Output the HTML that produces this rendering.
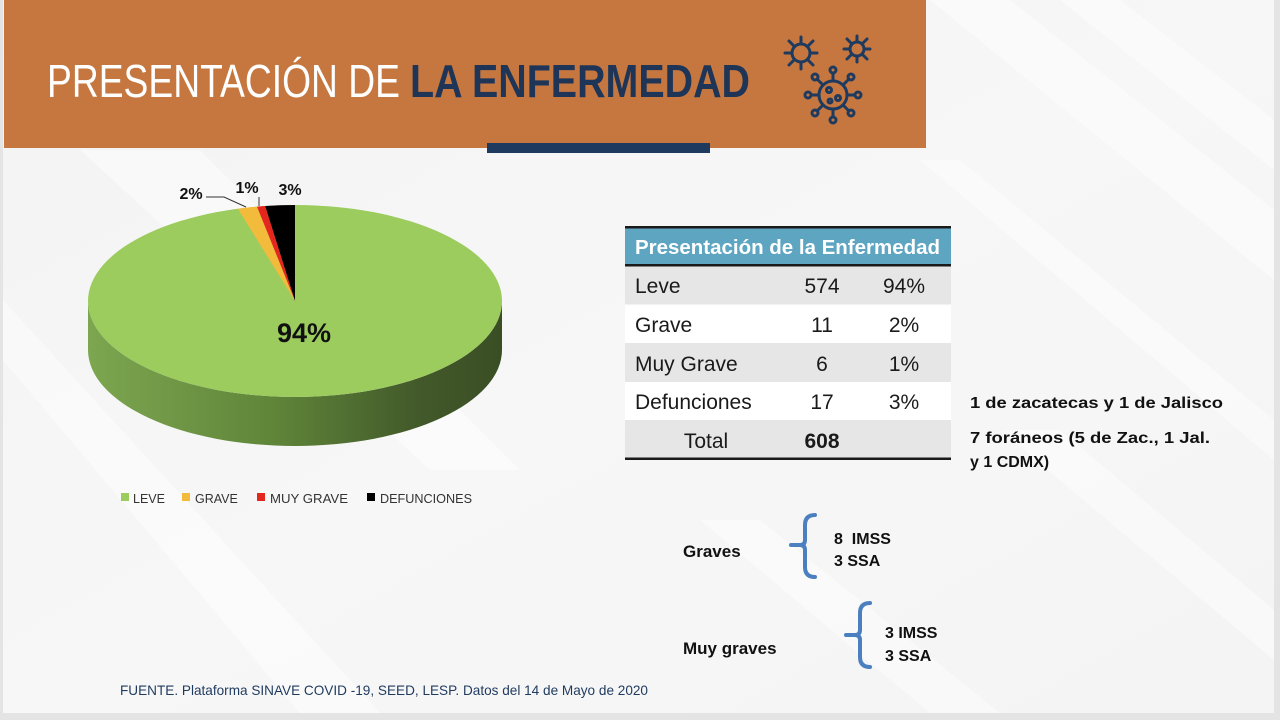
<!DOCTYPE html>
<html><head><meta charset="utf-8"><style>
html,body{margin:0;padding:0;width:1280px;height:720px;overflow:hidden;background:#e6e6e6;}
svg{display:block;}
</style></head><body>
<svg width="1280" height="720" viewBox="0 0 1280 720" xmlns="http://www.w3.org/2000/svg">
<defs>
<linearGradient id="side" x1="0" y1="0" x2="1" y2="0">
<stop offset="0" stop-color="#7da650"/>
<stop offset="0.45" stop-color="#5f8539"/>
<stop offset="0.8" stop-color="#42592a"/>
<stop offset="1" stop-color="#3a4e24"/>
</linearGradient>
<linearGradient id="bg" x1="0" y1="0" x2="1" y2="1">
<stop offset="0" stop-color="#f3f3f3"/>
<stop offset="0.5" stop-color="#f7f7f7"/>
<stop offset="1" stop-color="#f4f4f4"/>
</linearGradient>
</defs>
<!-- slide background -->
<rect x="0" y="0" width="1280" height="720" fill="#e4e4e4"/>
<rect x="3" y="0" width="1271" height="713" fill="url(#bg)"/>
<g fill="#ffffff" opacity="0.45">
<polygon points="930,0 1010,0 1274,210 1274,280"/>
<polygon points="1060,0 1120,0 1274,120 1274,170"/>
<polygon points="920,160 960,160 1274,420 1274,460"/>
<polygon points="3,300 3,360 300,713 380,713"/>
<polygon points="700,520 760,520 1000,713 930,713"/>
<polygon points="1000,430 1060,430 1274,610 1274,660"/>
<polygon points="80,150 200,150 520,470 430,470"/>
</g>
<!-- header -->
<rect x="4" y="0" width="922" height="148" fill="#c5773f"/>
<rect x="487" y="143" width="223" height="10" fill="#1f3a5f"/>
<text x="47" y="97" font-family="Liberation Sans, sans-serif" font-size="46" fill="#ffffff" textLength="353" lengthAdjust="spacingAndGlyphs">PRESENTACIÓN DE</text>
<text x="410" y="97" font-family="Liberation Sans, sans-serif" font-size="46" font-weight="bold" fill="#1e3557" textLength="340" lengthAdjust="spacingAndGlyphs">LA ENFERMEDAD</text>
<!-- virus icons -->
<g stroke="#1f3a5f" stroke-width="3" fill="none" stroke-linecap="round">
<circle cx="801" cy="53" r="9"/>
<g transform="translate(801,53)">
<line x1="0" y1="-10" x2="0" y2="-16"/><line x1="0" y1="10" x2="0" y2="16"/>
<line x1="-10" y1="0" x2="-16" y2="0"/><line x1="10" y1="0" x2="16" y2="0"/>
<line x1="7" y1="7" x2="12" y2="12"/><line x1="-7" y1="7" x2="-12" y2="12"/>
<line x1="7" y1="-7" x2="12" y2="-12"/><line x1="-7" y1="-7" x2="-12" y2="-12"/>
</g>
<circle cx="857" cy="49" r="7"/>
<g transform="translate(857,49)">
<line x1="0" y1="-8" x2="0" y2="-13"/><line x1="0" y1="8" x2="0" y2="13"/>
<line x1="-8" y1="0" x2="-13" y2="0"/><line x1="8" y1="0" x2="13" y2="0"/>
<line x1="6" y1="6" x2="10" y2="10"/><line x1="-6" y1="6" x2="-10" y2="10"/>
<line x1="6" y1="-6" x2="10" y2="-10"/><line x1="-6" y1="-6" x2="-10" y2="-10"/>
</g>
<circle cx="833" cy="95" r="14"/>
<g transform="translate(833,95)">
<line x1="0" y1="-15" x2="0" y2="-22"/><line x1="0" y1="15" x2="0" y2="22"/>
<line x1="-15" y1="0" x2="-22" y2="0"/><line x1="15" y1="0" x2="22" y2="0"/>
<line x1="11" y1="11" x2="16" y2="16"/><line x1="-11" y1="11" x2="-16" y2="16"/>
<line x1="11" y1="-11" x2="16" y2="-16"/><line x1="-11" y1="-11" x2="-16" y2="-16"/>
<circle cx="0" cy="-25" r="3"/><circle cx="0" cy="25" r="3"/><circle cx="-25" cy="0" r="3"/><circle cx="25" cy="0" r="3"/>
<circle cx="18" cy="18" r="3"/><circle cx="-18" cy="18" r="3"/><circle cx="18" cy="-18" r="3"/><circle cx="-18" cy="-18" r="3"/>
<circle cx="-4" cy="-5" r="2.5"/><circle cx="5" cy="3" r="2.5"/><circle cx="-3" cy="6" r="2"/>
</g>
</g>
<!-- pie 3D -->
<path d="M88,301 A207,96 0 0 0 502,301 L502,350 A207,96 0 0 1 88,350 Z" fill="url(#side)"/>
<ellipse cx="295" cy="301" rx="207" ry="96" fill="#9ccb5e"/>
<path d="M295,301 L295,205 A207,96 0 0 0 265.1,206 Z" fill="#000000"/>
<path d="M295,301 L265.1,206 A207,96 0 0 0 256.9,206.6 Z" fill="#e5261f"/>
<path d="M295,301 L256.9,206.6 A207,96 0 0 0 237.9,208.7 Z" fill="#f3bb3c"/>
<text x="304" y="342" font-family="Liberation Sans, sans-serif" font-size="27" font-weight="bold" fill="#111" text-anchor="middle">94%</text>
<text x="191" y="199" font-family="Liberation Sans, sans-serif" font-size="16" font-weight="bold" fill="#111" text-anchor="middle">2%</text>
<text x="247" y="193" font-family="Liberation Sans, sans-serif" font-size="16" font-weight="bold" fill="#111" text-anchor="middle">1%</text>
<text x="290" y="195" font-family="Liberation Sans, sans-serif" font-size="16" font-weight="bold" fill="#111" text-anchor="middle">3%</text>
<polyline points="206,197 224,197 246,207" stroke="#333" stroke-width="1" fill="none"/>
<line x1="259" y1="197" x2="259" y2="206" stroke="#333" stroke-width="1"/>
<!-- legend -->
<g font-family="Liberation Sans, sans-serif" font-size="12.5" fill="#333">
<rect x="121" y="493" width="8" height="8" fill="#9ccb5e"/><text x="133" y="503">LEVE</text>
<rect x="182" y="493" width="8" height="8" fill="#f3bb3c"/><text x="195" y="503">GRAVE</text>
<rect x="257" y="493" width="8" height="8" fill="#e5261f"/><text x="270" y="503" textLength="78" lengthAdjust="spacingAndGlyphs">MUY GRAVE</text>
<rect x="367" y="493" width="8" height="8" fill="#000"/><text x="380" y="503" textLength="92" lengthAdjust="spacingAndGlyphs">DEFUNCIONES</text>
</g>
<!-- table -->
<rect x="625" y="227" width="326" height="39" fill="#5ea5c2"/>
<rect x="625" y="226" width="326" height="2.5" fill="#1a1a1a"/>
<rect x="625" y="264" width="326" height="2.5" fill="#1a1a1a"/>
<rect x="625" y="266.5" width="326" height="38" fill="#e6e6e6"/>
<rect x="625" y="304.5" width="326" height="38.5" fill="#ffffff"/>
<rect x="625" y="343" width="326" height="39" fill="#e6e6e6"/>
<rect x="625" y="382" width="326" height="38" fill="#ffffff"/>
<rect x="625" y="420" width="326" height="38" fill="#e6e6e6"/>
<rect x="625" y="457.5" width="326" height="2.5" fill="#1a1a1a"/>
<text x="635" y="254" font-family="Liberation Sans, sans-serif" font-size="20" font-weight="bold" fill="#ffffff" textLength="305" lengthAdjust="spacingAndGlyphs">Presentación de la Enfermedad</text>
<g font-family="Liberation Sans, sans-serif" font-size="21" fill="#1a1a1a">
<text x="635" y="293">Leve</text><text x="822" y="293" text-anchor="middle">574</text><text x="904" y="293" text-anchor="middle">94%</text>
<text x="635" y="332">Grave</text><text x="822" y="332" text-anchor="middle">11</text><text x="904" y="332" text-anchor="middle">2%</text>
<text x="635" y="371">Muy Grave</text><text x="822" y="371" text-anchor="middle">6</text><text x="904" y="371" text-anchor="middle">1%</text>
<text x="635" y="409">Defunciones</text><text x="822" y="409" text-anchor="middle">17</text><text x="904" y="409" text-anchor="middle">3%</text>
<text x="706" y="448" text-anchor="middle">Total</text><text x="822" y="448" text-anchor="middle" font-weight="bold">608</text>
</g>
<!-- notes -->
<g font-family="Liberation Sans, sans-serif" font-size="16" font-weight="bold" fill="#111">
<text x="970" y="408" textLength="253" lengthAdjust="spacingAndGlyphs">1 de zacatecas y 1 de Jalisco</text>
<text x="970" y="443" textLength="240" lengthAdjust="spacingAndGlyphs">7 foráneos (5 de Zac., 1 Jal.</text>
<text x="970" y="467">y 1 CDMX)</text>
<text x="683" y="557" font-size="17">Graves</text>
<text x="834" y="544">8&#160; IMSS</text>
<text x="834" y="566">3 SSA</text>
<text x="683" y="654" font-size="17">Muy graves</text>
<text x="885" y="638">3 IMSS</text>
<text x="885" y="661">3 SSA</text>
</g>
<g stroke="#4c7fbf" stroke-width="4" fill="none" stroke-linecap="round">
<path d="M815,515 Q805,515 805,525 L805,540 Q805,545 800,545 L791,545 M800,545 Q805,545 805,550 L805,567 Q805,577 815,577"/>
<path d="M870,603 Q860,603 860,613 L860,630 Q860,635 855,635 L846,635 M855,635 Q860,635 860,640 L860,657 Q860,667 870,667"/>
</g>
<!-- footer -->
<text x="120" y="695" font-family="Liberation Sans, sans-serif" font-size="14" fill="#1f3a5f" textLength="528" lengthAdjust="spacingAndGlyphs">FUENTE. Plataforma SINAVE COVID -19, SEED, LESP. Datos del 14 de Mayo de 2020</text>
</svg>
</body></html>
